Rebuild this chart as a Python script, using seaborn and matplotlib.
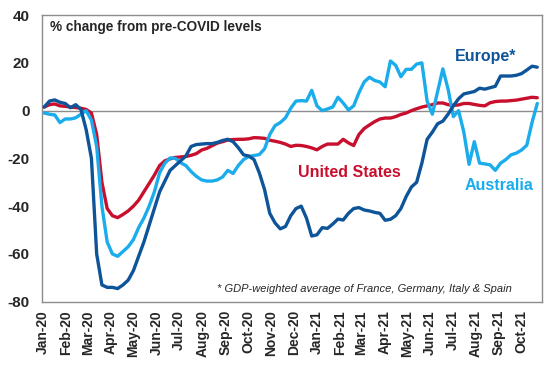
import pandas as pd
import matplotlib
matplotlib.use("Agg")
import matplotlib.pyplot as plt
import matplotlib.dates as mdates
import seaborn as sns

# ----------------------------------
# Weekly data, % change from pre-COVID levels
# ----------------------------------
start_date = "2020-01-03"
n_weeks = 95

europe = [
    1.5, 4, 4.5, 3.5, 3, 1.2, 2.5, 0.5, -8, -20,
    -60, -73, -74, -74, -74.5, -73, -71, -67, -61, -55,
    -48, -41, -34, -29.5, -25, -23, -21, -19, -15, -14.2,
    -14, -13.8, -13.8, -13.3, -12.5, -12, -13, -15.5, -18.5, -19,
    -20.5, -26, -33, -43, -47, -49.5, -48.5, -44, -41, -40,
    -45, -52.5, -52, -49, -49.3, -47.5, -45.4, -45.8, -43, -41,
    -40.6, -41.6, -42, -42.6, -43, -45.9, -45.5, -44, -41, -36,
    -32, -30, -22, -12, -9, -5.5, -4.4, -1.5, 2, 5,
    7, 7.5, 8, 9.4, 9, 9.6, 10.2, 14.5, 14.5, 14.5,
    14.8, 15.5, 17, 18.6, 18.2,
]

united_states = [
    1.5, 2.5, 2.8, 2, 1.8, 1.5, 1.3, 1.0, 0.5, -1,
    -10, -30, -41, -44, -44.8, -43.5, -42, -40, -37.5, -34,
    -30.5, -27, -23, -21, -20.2, -19.6, -19.4, -19.2, -18.7, -18,
    -16.5, -15.8, -14.7, -13.6, -13, -12.3, -12.1, -12, -12, -11.8,
    -11.3, -11.4, -11.6, -12.4, -12.8, -13.3, -14, -15, -14.5, -14.6,
    -15, -15.6, -16.4, -15, -14, -14, -14, -12, -13.5, -14.6,
    -10, -7.5, -6, -4.6, -3.5, -3.1, -3.1, -2.5, -1.6, -1,
    0, 0.8, 1.5, 2, 2.5, 3.2, 3.2, 2.5, 2.2, 2.4,
    3, 3, 2.6, 2.2, 2, 3.3, 3.8, 4, 4, 4.2,
    4.4, 4.8, 5.2, 5.6, 5.4,
]

australia = [
    -1, -1.5, -1.8, -5, -3.5, -3.5, -3, -1.5, 0, -4,
    -15, -40, -55, -60, -61, -59, -57, -54, -49, -45,
    -40, -34, -26, -22, -19.8, -20, -21.8, -23, -25.5, -27.5,
    -29, -29.5, -29.5, -29, -27.8, -25, -26.3, -23, -20.5, -19.2,
    -18.8, -18.4, -16, -10, -6.3, -5, -3, 1, 4, 4.2,
    4, 8.5, 2, 0, 0.7, 1.5, 5.6, 3.2, 0.3, 2,
    7.5, 12, 14, 12.6, 12, 10, 20.8, 19, 14.2, 17.3,
    17.3, 19.5, 20, 4, -1.5, 8, 17.5, 9, -2.5, 0,
    -9, -22.5, -13, -22, -22.3, -22.7, -25, -22, -20.5, -18.5,
    -17.8, -16.5, -14.5, -5, 3,
]

series_names = ["United States", "Australia", "Europe"]
colors = {"United States": "#C8102E", "Australia": "#1BACEC", "Europe": "#0E5499"}

dates = pd.date_range(start_date, periods=n_weeks, freq="7D")
df = pd.DataFrame({
    "date": dates,
    "Europe": europe,
    "United States": united_states,
    "Australia": australia,
})
long_df = df.melt(id_vars="date", value_vars=series_names,
                  var_name="region", value_name="pct")

# ----------------------------------
# Plot
# ----------------------------------
sns.set_theme(style="white")
plt.rcParams["font.family"] = ["Liberation Sans", "DejaVu Sans"]
plt.rcParams["axes.unicode_minus"] = False

fig = plt.figure(figsize=(5.48, 3.66), dpi=100)
ax = fig.add_axes([0.0766, 0.1757, 0.912, 0.783])

ax.axhline(0, color="#8c8c8c", linewidth=1.0, zorder=1)

sns.lineplot(data=long_df, x="date", y="pct", hue="region",
             hue_order=series_names, palette=colors,
             linewidth=2.4, legend=False, ax=ax, zorder=3)

ax.set_xlim(pd.Timestamp("2019-12-31"), pd.Timestamp("2021-10-28"))
ax.set_ylim(-80, 40)
ax.set_yticks([-80, -60, -40, -20, 0, 20, 40])
ax.xaxis.set_major_locator(mdates.MonthLocator())
ax.xaxis.set_major_formatter(mdates.DateFormatter("%b-%y"))
ax.set_xlabel("")
ax.set_ylabel("")

ax.tick_params(axis="y", length=0, pad=9, labelsize=11)
ax.tick_params(axis="x", length=0, pad=6, labelsize=10, rotation=90)
for lbl in ax.get_xticklabels() + ax.get_yticklabels():
    lbl.set_fontweight("bold")

for sp in ax.spines.values():
    sp.set_color("#8c8c8c")
    sp.set_linewidth(1.0)

# ----------------------------------
# Annotations
# ----------------------------------
ax.text(0.016, 0.958, "% change from pre-COVID levels", transform=ax.transAxes,
        fontsize=9.8, fontweight="bold", ha="left", va="center")
ax.text(0.826, 0.857, "Europe*", transform=ax.transAxes, color=colors["Europe"],
        fontsize=11.5, fontweight="bold", ha="left", va="center")
ax.text(0.512, 0.452, "United States", transform=ax.transAxes,
        color=colors["United States"], fontsize=11.5, fontweight="bold",
        ha="left", va="center")
ax.text(0.845, 0.404, "Australia", transform=ax.transAxes,
        color=colors["Australia"], fontsize=11.5, fontweight="bold",
        ha="left", va="center")
ax.text(0.350, 0.044, "* GDP-weighted average of France, Germany, Italy & Spain",
        transform=ax.transAxes, fontsize=8, fontstyle="italic",
        ha="left", va="center")

fig.savefig("out.png", dpi=100)
